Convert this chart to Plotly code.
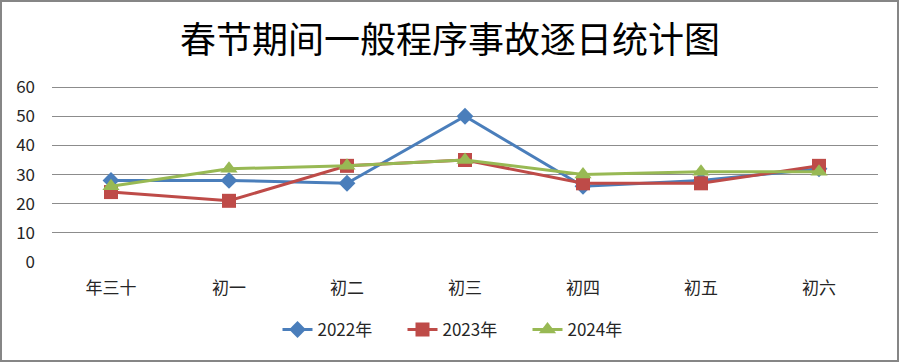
import plotly.graph_objects as go

categories = ["年三十", "初一", "初二", "初三", "初四", "初五", "初六"]
series_names = ["2022年", "2023年", "2024年"]
values_2022 = [28, 28, 27, 50, 26, 28, 32]
values_2023 = [24, 21, 33, 35, 27, 27, 33]
values_2024 = [26, 32, 33, 35, 30, 31, 31]
y_ticks = [0, 10, 20, 30, 40, 50, 60]

W, H = 900, 363
ml, mr, mt, mb = 52, 22, 86, 101
pw, ph = W - ml - mr, H - mt - mb

styles = [
    dict(color="#4A7EBB", symbol="diamond", size=13),
    dict(color="#BE4B48", symbol="square", size=14),
    dict(color="#98B954", symbol="triangle-up", size=15),
]

fig = go.Figure()
for name, vals, st in zip(series_names, [values_2022, values_2023, values_2024], styles):
    fig.add_trace(go.Scatter(
        x=categories, y=vals, name=name, mode="lines+markers",
        line=dict(color=st["color"], width=3),
        marker=dict(symbol=st["symbol"], size=st["size"], color=st["color"]),
    ))

font_family = "Noto Sans CJK SC, Noto Sans, sans-serif"
fig.update_layout(
    width=W, height=H,
    margin=dict(l=ml, r=mr, t=mt, b=mb, autoexpand=False),
    paper_bgcolor="white", plot_bgcolor="white",
    font=dict(family=font_family, size=17, color="#262626"),
    title=dict(text="春节期间一般程序事故逐日统计图", x=0.5, xanchor="center",
               y=1 - 40 / H, yanchor="middle",
               font=dict(size=36, color="#000000", family=font_family)),
    xaxis=dict(type="category", showgrid=False, showline=False, ticks="",
               tickfont=dict(size=17), range=[-0.5, 6.5], ticklabelstandoff=14),
    yaxis=dict(range=[0, 60.4], tickvals=y_ticks, showgrid=True, gridcolor="#8C8C8C",
               gridwidth=1, zeroline=False, showline=False, ticks="", ticklabelstandoff=16,
               tickfont=dict(size=17)),
    showlegend=True,
    legend=dict(orientation="h", x=0.5, xanchor="center", yref="container",
                y=1 - 330 / H, yanchor="middle", font=dict(size=17), entrywidth=80),
)

# outer chart border
fig.add_shape(type="rect", xref="paper", yref="paper",
              x0=-(ml - 1) / pw, x1=1 + (mr - 2) / pw,
              y0=-(mb - 2) / ph, y1=1 + (mt - 1) / ph,
              line=dict(color="#868686", width=2), fillcolor="rgba(0,0,0,0)", layer="below")

fig.write_html("out.html", config={"displayModeBar": False},
               post_script="document.body.style.margin='0';")
